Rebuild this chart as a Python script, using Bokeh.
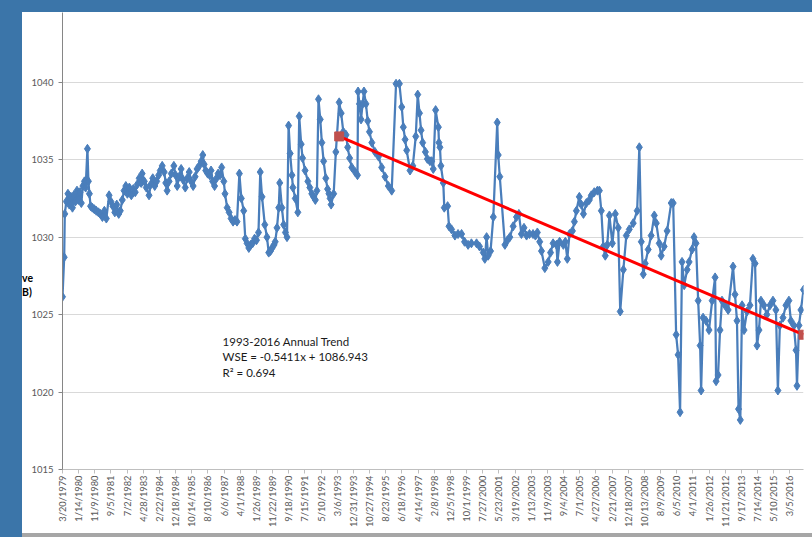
import math
import pandas as pd
from bokeh.plotting import figure
from bokeh.models import FixedTicker, Range1d, Label, Div, ColumnDataSource
from bokeh.layouts import column, row
from bokeh.embed import file_html
from bokeh.resources import INLINE

# ---------------- data (decimal year, water surface elevation) ----------------
years = [
    1979.214, 1979.30, 1979.33, 1979.41, 1979.49, 1979.56, 1979.64, 1979.72, 1979.79, 1979.87,
    1979.95, 1980.02, 1980.10, 1980.17, 1980.25, 1980.33, 1980.39, 1980.48, 1980.53, 1980.58,
    1980.64, 1980.73, 1980.83, 1980.93, 1981.04, 1981.14, 1981.24, 1981.34, 1981.44, 1981.58,
    1981.67, 1981.77, 1981.87, 1981.97, 1982.07, 1982.15, 1982.25, 1982.34, 1982.43, 1982.51,
    1982.61, 1982.71, 1982.81, 1982.91, 1983.01, 1983.11, 1983.21, 1983.26, 1983.37, 1983.47,
    1983.61, 1983.70, 1983.80, 1983.90, 1984.00, 1984.10, 1984.18, 1984.28, 1984.38, 1984.46,
    1984.53, 1984.63, 1984.74, 1984.87, 1984.96, 1985.04, 1985.14, 1985.24, 1985.34, 1985.45,
    1985.55, 1985.65, 1985.75, 1985.85, 1985.95, 1986.05, 1986.16, 1986.26, 1986.34, 1986.41,
    1986.49, 1986.59, 1986.69, 1986.76, 1986.84, 1986.94, 1987.04, 1987.12, 1987.22, 1987.30,
    1987.41, 1987.47, 1987.58, 1987.68, 1987.78, 1987.88, 1987.98, 1988.08, 1988.20, 1988.30,
    1988.42, 1988.50, 1988.59, 1988.68, 1988.77, 1988.87, 1988.97, 1989.07, 1989.17, 1989.26,
    1989.35, 1989.49, 1989.60, 1989.69, 1989.78, 1989.86, 1989.96, 1990.02, 1990.11, 1990.20,
    1990.25, 1990.36, 1990.45, 1990.54, 1990.62, 1990.70, 1990.78, 1990.87, 1990.92, 1991.04,
    1991.17, 1991.24, 1991.34, 1991.41, 1991.54, 1991.68, 1991.78, 1991.88, 1991.97, 1992.06,
    1992.14, 1992.22, 1992.31, 1992.39, 1992.48, 1992.59, 1992.68, 1992.75, 1992.81, 1992.86,
    1992.99, 1993.10, 1993.27, 1993.37, 1993.48, 1993.62, 1993.70, 1993.80, 1993.91, 1994.08,
    1994.20, 1994.23, 1994.30, 1994.38, 1994.46, 1994.53, 1994.63, 1994.72, 1994.81, 1994.93,
    1995.09, 1995.27, 1995.43, 1995.60, 1995.77, 1995.94, 1996.16, 1996.33, 1996.45, 1996.53,
    1996.62, 1996.70, 1996.87, 1997.01, 1997.16, 1997.26, 1997.35, 1997.43, 1997.51, 1997.65,
    1997.75, 1997.88, 1997.97, 1998.05, 1998.17, 1998.31, 1998.34, 1998.39, 1998.44, 1998.56,
    1998.61, 1998.78, 1998.85, 1998.98, 1999.15, 1999.31, 1999.49, 1999.64, 1999.82, 1999.99,
    2000.25, 2000.40, 2000.59, 2000.67, 2000.76, 2000.84, 2000.96, 2001.10, 2001.30, 2001.35,
    2001.43, 2001.69, 2001.82, 2001.94, 2002.11, 2002.28, 2002.40, 2002.53, 2002.66, 2002.79,
    2002.94, 2003.12, 2003.24, 2003.34, 2003.46, 2003.55, 2003.72, 2003.89, 2004.01, 2004.14,
    2004.31, 2004.36, 2004.47, 2004.66, 2004.76, 2004.86, 2004.97, 2005.12, 2005.22, 2005.32,
    2005.47, 2005.57, 2005.68, 2005.83, 2005.98, 2006.08, 2006.23, 2006.39, 2006.49, 2006.59,
    2006.69, 2006.79, 2006.89, 2007.00, 2007.15, 2007.30, 2007.45, 2007.55, 2007.71, 2007.86,
    2008.01, 2008.21, 2008.41, 2008.52, 2008.62, 2008.72, 2008.82, 2008.97, 2009.12, 2009.28,
    2009.38, 2009.53, 2009.63, 2009.78, 2009.93, 2010.14, 2010.24, 2010.39, 2010.49, 2010.59,
    2010.69, 2010.80, 2010.95, 2011.05, 2011.20, 2011.30, 2011.40, 2011.51, 2011.61, 2011.66,
    2011.76, 2011.91, 2012.06, 2012.22, 2012.37, 2012.42, 2012.52, 2012.62, 2012.72, 2012.87,
    2013.03, 2013.28, 2013.38, 2013.48, 2013.56, 2013.65, 2013.74, 2013.84, 2013.99, 2014.14,
    2014.29, 2014.40, 2014.50, 2014.60, 2014.70, 2014.85, 2015.00, 2015.16, 2015.31, 2015.46,
    2015.56, 2015.66, 2015.82, 2015.97, 2016.12, 2016.22, 2016.37, 2016.48, 2016.53, 2016.63,
    2016.73, 2016.86,
]

wse = [
    1026.15, 1028.7, 1031.5, 1032.3, 1032.8, 1032.1, 1032.6, 1031.9, 1032.7, 1032.3,
    1033.0, 1032.4, 1032.9, 1032.2, 1033.3, 1033.6, 1033.2, 1035.7, 1033.6, 1032.8,
    1032.0, 1031.9, 1031.8, 1031.7, 1031.6, 1031.5, 1031.3, 1031.7, 1031.2, 1032.7,
    1032.3, 1032.0, 1031.6, 1032.1, 1031.5, 1031.7, 1032.4, 1033.0, 1033.3, 1032.8,
    1033.2, 1032.7, 1033.1, 1032.9, 1033.4, 1033.8, 1033.5, 1034.1, 1033.6, 1033.2,
    1032.7, 1033.4, 1033.8, 1033.3, 1033.6, 1034.0, 1034.3, 1034.6, 1034.2, 1033.5,
    1033.0, 1033.6, 1034.1, 1034.6, 1034.0, 1033.3, 1033.9, 1034.4, 1033.7, 1033.2,
    1033.8, 1034.2, 1033.6, 1033.3, 1033.9, 1034.4, 1034.6, 1034.9, 1035.3, 1034.7,
    1034.3, 1034.1, 1034.0, 1034.3, 1033.6, 1033.3, 1033.8, 1034.1, 1034.0, 1034.5,
    1033.6, 1032.8, 1031.9, 1031.6, 1031.2, 1031.0, 1031.1, 1031.0, 1034.1, 1032.5,
    1031.7, 1029.9, 1029.6, 1029.3, 1029.5, 1029.6, 1029.9, 1029.8, 1030.3, 1034.2,
    1032.6, 1030.8, 1030.0, 1029.0, 1029.1, 1029.3, 1029.5, 1029.7, 1030.6, 1031.9,
    1033.5, 1031.9, 1030.8, 1030.3, 1030.0, 1037.2, 1035.4, 1034.0, 1033.2, 1032.5,
    1031.6, 1037.8, 1036.0, 1035.1, 1034.3, 1033.6, 1033.2, 1032.8, 1032.6, 1032.4,
    1033.0, 1038.9, 1037.6, 1036.1, 1034.9, 1033.8, 1033.1, 1032.8, 1032.5, 1032.1,
    1032.8, 1035.5, 1038.7, 1038.0, 1036.8, 1036.6, 1035.8, 1035.1, 1034.5, 1034.2,
    1034.0, 1039.4, 1038.6, 1037.6, 1038.6, 1039.4, 1038.6, 1037.5, 1036.8, 1036.1,
    1035.5, 1035.2, 1034.5, 1033.9, 1033.3, 1033.0, 1039.9, 1039.9, 1038.4, 1037.1,
    1036.3, 1035.6, 1034.3, 1034.6, 1036.5, 1039.2, 1038.0, 1036.9, 1036.1, 1035.5,
    1035.05, 1034.9, 1034.9, 1034.4, 1038.2, 1037.1, 1036.1, 1035.8, 1034.6, 1033.5,
    1031.9, 1032.0, 1030.7, 1030.5, 1030.1, 1030.2, 1030.2, 1029.7, 1029.5, 1029.6,
    1029.6, 1029.4, 1029.0, 1028.6, 1030.0, 1028.8, 1029.1, 1031.3, 1037.4, 1035.3,
    1033.9, 1029.5, 1029.8, 1030.0, 1030.7, 1031.3, 1031.5, 1030.2, 1030.6, 1030.1,
    1030.2, 1030.2, 1030.1, 1030.3, 1029.7, 1029.1, 1028.0, 1028.4, 1029.0, 1029.6,
    1029.5, 1028.4, 1029.7, 1029.5, 1029.7, 1028.6, 1030.2, 1030.4, 1031.0, 1031.7,
    1032.6, 1032.1, 1031.5, 1032.2, 1032.4, 1032.7, 1032.9, 1033.0, 1033.0, 1031.7,
    1029.4, 1028.8, 1029.5, 1031.4, 1029.6, 1031.5, 1030.6, 1025.2, 1027.9, 1030.1,
    1030.5, 1030.9, 1031.7, 1035.8, 1029.7, 1027.6, 1028.3, 1029.2, 1030.1, 1031.4,
    1030.9, 1029.6, 1028.8, 1029.4, 1030.4, 1032.2, 1032.2, 1023.7, 1022.4, 1018.7,
    1028.4, 1026.9, 1027.9, 1028.4, 1029.2, 1030.0, 1029.6, 1025.9, 1023.0, 1020.1,
    1024.8, 1024.6, 1024.0, 1025.9, 1027.4, 1020.7, 1021.1, 1024.0, 1025.9, 1025.6,
    1025.3, 1028.1, 1026.3, 1024.6, 1018.9, 1018.2, 1025.6, 1024.0, 1025.2, 1025.6,
    1028.6, 1028.3, 1023.0, 1024.0, 1025.9, 1025.6, 1025.0, 1025.6, 1025.9, 1025.3,
    1020.1, 1024.3, 1024.8, 1025.6, 1025.9, 1024.6, 1024.3, 1022.7, 1020.4, 1024.3,
    1025.3, 1026.6,
]

trend_years = [1993.27, 2016.86]
trend_wse = [1036.5, 1023.7]

axis_start = "1979-03-20"
tick_step_days = 300
n_x_ticks = 46
y_ticks = [1015, 1020, 1025, 1030, 1035, 1040]

annotation_text = "1993-2016 Annual Trend\nWSE = -0.5411x + 1086.943\nR\u00b2 = 0.694"
axis_title_visible = "ve<br>B)"

# ---------------- helpers ----------------
start = pd.Timestamp(axis_start)


def to_days(yrs):
    out = []
    for y in yrs:
        yi = int(y)
        b = pd.Timestamp(year=yi, month=1, day=1)
        n = pd.Timestamp(year=yi + 1, month=1, day=1)
        d = b + (n - b) * (y - yi)
        out.append((d - start) / pd.Timedelta(days=1))
    return out


x_days = to_days(years)
x_days[0] = max(x_days[0], 0.0)
trend_days = to_days(trend_years)

tick_vals = [k * tick_step_days for k in range(n_x_ticks)]
tick_labels = {}
for k in tick_vals:
    d = start + pd.Timedelta(days=k)
    tick_labels[k] = f"{d.month}/{d.day}/{d.year}"

BLUE = "#4a7ebb"
GREY_TXT = "#595959"
FONT = "Lato"

src = ColumnDataSource(dict(x=x_days, y=wse))
tsrc = ColumnDataSource(dict(x=trend_days, y=trend_wse))

p = figure(
    width=784, height=521,
    x_range=Range1d(0, max(x_days)), y_range=Range1d(1015, 1044.5),
    output_backend="svg", toolbar_location=None,
    min_border_left=33, min_border_right=9, min_border_top=0, min_border_bottom=64,
)
p.outline_line_color = None
p.background_fill_color = "white"
p.border_fill_color = None

p.xgrid.visible = False
p.ygrid.grid_line_color = "#d9d9d9"
p.ygrid.grid_line_width = 1

p.yaxis.ticker = FixedTicker(ticks=y_ticks)
p.yaxis.axis_line_color = "#868686"
p.yaxis.major_tick_line_color = "#868686"
p.yaxis.major_tick_out = 4
p.yaxis.major_tick_in = 0
p.yaxis.minor_tick_line_color = None
p.yaxis.major_label_standoff = 5
p.yaxis.major_label_text_font = FONT
p.yaxis.major_label_text_font_size = "9.5px"
p.yaxis.major_label_text_color = GREY_TXT

p.xaxis.ticker = FixedTicker(ticks=tick_vals)
p.xaxis.major_label_overrides = tick_labels
p.xaxis.major_label_orientation = math.pi / 2
p.xaxis.axis_line_color = "#bfbfbf"
p.xaxis.major_tick_line_color = "#bfbfbf"
p.xaxis.major_tick_out = 4
p.xaxis.major_tick_in = 0
p.xaxis.minor_tick_line_color = None
p.xaxis.major_label_standoff = 2
p.xaxis.major_label_text_font = FONT
p.xaxis.major_label_text_font_size = "9.3px"
p.xaxis.major_label_text_color = GREY_TXT

p.line("x", "y", source=src, line_color=BLUE, line_width=2.25)
p.scatter("x", "y", source=src, marker="diamond", size=9, fill_color=BLUE, line_color=BLUE)

p.line("x", "y", source=tsrc, line_color="#ff0000", line_width=3)
p.scatter("x", "y", source=tsrc, marker="square", size=9, fill_color="#c0504d", line_color="#c0504d")

ann = Label(x=2970, y=1023.7, text=annotation_text, text_font=FONT, text_font_size="11.5px",
            text_color="#1a1a1a", text_baseline="top", text_align="left", text_line_height=1.2)
p.add_layout(ann)

FRAME = "#3b75a9"
top_bar = Div(width=812, height=12, margin=0, styles={"background-color": FRAME})
left_bar = Div(width=22, height=525, margin=0, styles={"background-color": FRAME})
title_div = Div(
    width=6, height=521, margin=0,
    text=('<div style="margin-top:259px;font-family:Lato;font-weight:bold;font-size:10.5px;'
          'line-height:14px;color:#000;white-space:nowrap;">' + axis_title_visible + '</div>'),
    styles={"overflow": "visible"},
)
bottom_bar = Div(width=790, height=4, margin=0, styles={"background-color": "#a6a6a6"})

layout = column(
    top_bar,
    row(left_bar, column(row(title_div, p, spacing=0), bottom_bar, spacing=0), spacing=0),
    spacing=0,
)

open("out.html", "w").write(file_html(layout, INLINE))
